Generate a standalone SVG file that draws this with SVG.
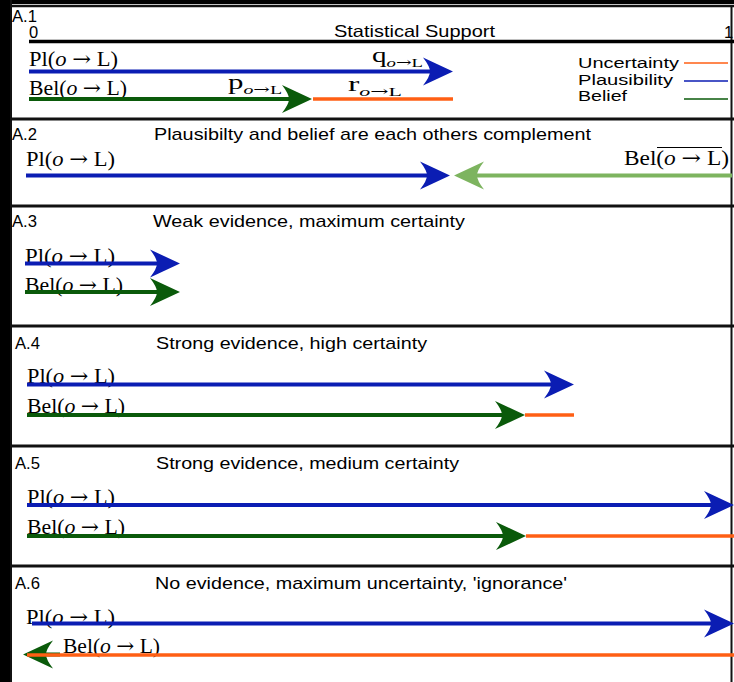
<svg xmlns="http://www.w3.org/2000/svg" width="734" height="682" viewBox="0 0 734 682">
<style>
.s{font-family:"Liberation Sans",Arial,sans-serif;font-size:16.5px;fill:#000}
.t{font-family:"Liberation Sans",Arial,sans-serif;font-size:17px;fill:#000}
.lgd{font-family:"Liberation Sans",Arial,sans-serif;font-size:15.5px;fill:#000}
.m{font-family:"Liberation Serif","DejaVu Serif",serif;font-size:21px;fill:#000}
.ar{font-family:"DejaVu Serif","DejaVu Sans",serif}
.sub{font-size:13.5px}
.i{font-style:italic}
.frame{stroke:#111;fill:none}
.bl{stroke:#0b1db3;stroke-width:4;fill:none}
.gr{stroke:#0a5a0a;stroke-width:4;fill:none}
.lg{stroke:#7db45f;stroke-width:4;fill:none}
.or{stroke:#ff5f14;stroke-width:3.5;fill:none}
.leg{stroke-width:1.6;fill:none}
</style>
<defs>
<marker id="mb" markerUnits="userSpaceOnUse" refX="0" refY="0" markerWidth="40" markerHeight="40" orient="auto" overflow="visible"><path d="M22,0 L-8,-14 Q-1,-5 -1,0 Q-1,5 -8,14 Z" fill="#0b1db3"/></marker>
<marker id="mg" markerUnits="userSpaceOnUse" refX="0" refY="0" markerWidth="40" markerHeight="40" orient="auto" overflow="visible"><path d="M22,0 L-8,-14 Q-1,-5 -1,0 Q-1,5 -8,14 Z" fill="#0a5a0a"/></marker>
<marker id="ml" markerUnits="userSpaceOnUse" refX="0" refY="0" markerWidth="40" markerHeight="40" orient="auto" overflow="visible"><path d="M22,0 L-8,-14 Q-1,-5 -1,0 Q-1,5 -8,14 Z" fill="#7db45f"/></marker>
</defs>
<rect x="0" y="0" width="734" height="682" fill="#fff"/>
<rect x="0" y="0" width="10" height="682" fill="#000"/>
<rect x="0" y="0" width="734" height="4" fill="#000"/>
<g id="frames" class="frame">
<line x1="10" y1="6" x2="734" y2="6" stroke-width="2.5"/>
<line x1="11" y1="0" x2="11" y2="682" stroke-width="2"/>
<line x1="731.5" y1="6" x2="731.5" y2="682" stroke-width="2"/>
<line x1="10" y1="119" x2="734" y2="119" stroke-width="3"/>
<line x1="10" y1="206" x2="734" y2="206" stroke-width="3"/>
<line x1="10" y1="326" x2="734" y2="326" stroke-width="3"/>
<line x1="10" y1="446" x2="734" y2="446" stroke-width="3"/>
<line x1="10" y1="566" x2="734" y2="566" stroke-width="3"/>
</g>

<g id="panelA1">
<text class="s" x="12" y="22" textLength="25" lengthAdjust="spacingAndGlyphs">A.1</text>
<text class="s" x="29" y="38">0</text>
<text class="s" x="724" y="38">1</text>
<text class="s" x="334" y="37" font-size="19" textLength="161" lengthAdjust="spacingAndGlyphs">Statistical Support</text>
<line x1="29" y1="41.5" x2="734" y2="41.5" stroke="#000" stroke-width="3.5"/>
<text class="m" x="29" y="66" textLength="89" lengthAdjust="spacingAndGlyphs">Pl(<tspan class="i">o</tspan> <tspan class="ar">→</tspan> L)</text>
<text class="m" x="29" y="95" textLength="98" lengthAdjust="spacingAndGlyphs">Bel(<tspan class="i">o</tspan> <tspan class="ar">→</tspan> L)</text>
<text class="m" x="372" y="62" fill="#1d2fd0" textLength="51" lengthAdjust="spacingAndGlyphs">q<tspan class="sub" dy="5"><tspan class="i">o</tspan><tspan class="ar">→</tspan>L</tspan></text>
<text class="m" x="228" y="89" fill="#0a6a0a" textLength="54" lengthAdjust="spacingAndGlyphs">p<tspan class="sub" dy="5"><tspan class="i">o</tspan><tspan class="ar">→</tspan>L</tspan></text>
<text class="m" x="348" y="91" fill="#ff5f14" textLength="54" lengthAdjust="spacingAndGlyphs">r<tspan class="sub" dy="5"><tspan class="i">o</tspan><tspan class="ar">→</tspan>L</tspan></text>
</g>
<g id="legend">
<text class="lgd" x="578" y="68" textLength="101" lengthAdjust="spacingAndGlyphs">Uncertainty</text>
<text class="lgd" x="578" y="84.5" textLength="95" lengthAdjust="spacingAndGlyphs">Plausibility</text>
<text class="lgd" x="578" y="100.5" textLength="49" lengthAdjust="spacingAndGlyphs">Belief</text>
<line class="leg" x1="684" y1="63" x2="728" y2="63" stroke="#ff5f14"/>
<line class="leg" x1="684" y1="81" x2="728" y2="81" stroke="#0b1db3"/>
<line class="leg" x1="684" y1="99" x2="728" y2="99" stroke="#0a5a0a"/>
</g>

<g id="panelA2">
<text class="s" x="12" y="140" textLength="25" lengthAdjust="spacingAndGlyphs">A.2</text>
<text class="t" x="154" y="140" textLength="437" lengthAdjust="spacingAndGlyphs">Plausibilty and belief are each others complement</text>
<text class="m" x="26" y="166" textLength="89" lengthAdjust="spacingAndGlyphs">Pl(<tspan class="i">o</tspan> <tspan class="ar">→</tspan> L)</text>
<text class="m" x="624" y="165" textLength="105" lengthAdjust="spacingAndGlyphs">Bel(<tspan class="i">o</tspan> <tspan class="ar">→</tspan> L)</text>
<line x1="657" y1="147.5" x2="722" y2="147.5" stroke="#000" stroke-width="1"/>
</g>

<g id="panelA3">
<text class="s" x="12" y="227" textLength="25" lengthAdjust="spacingAndGlyphs">A.3</text>
<text class="t" x="153" y="227" textLength="312" lengthAdjust="spacingAndGlyphs">Weak evidence, maximum certainty</text>
<text class="m" x="25" y="263" textLength="90" lengthAdjust="spacingAndGlyphs">Pl(<tspan class="i">o</tspan> <tspan class="ar">→</tspan> L)</text>
<text class="m" x="25" y="292" textLength="98" lengthAdjust="spacingAndGlyphs">Bel(<tspan class="i">o</tspan> <tspan class="ar">→</tspan> L)</text>
</g>

<g id="panelA4">
<text class="s" x="15" y="349" textLength="25" lengthAdjust="spacingAndGlyphs">A.4</text>
<text class="t" x="156" y="349" textLength="271" lengthAdjust="spacingAndGlyphs">Strong evidence, high certainty</text>
<text class="m" x="27" y="383" textLength="88" lengthAdjust="spacingAndGlyphs">Pl(<tspan class="i">o</tspan> <tspan class="ar">→</tspan> L)</text>
<text class="m" x="27" y="413" textLength="98" lengthAdjust="spacingAndGlyphs">Bel(<tspan class="i">o</tspan> <tspan class="ar">→</tspan> L)</text>
</g>

<g id="panelA5">
<text class="s" x="15" y="469" textLength="25" lengthAdjust="spacingAndGlyphs">A.5</text>
<text class="t" x="156" y="469" textLength="303" lengthAdjust="spacingAndGlyphs">Strong evidence, medium certainty</text>
<text class="m" x="27" y="504" textLength="88" lengthAdjust="spacingAndGlyphs">Pl(<tspan class="i">o</tspan> <tspan class="ar">→</tspan> L)</text>
<text class="m" x="27" y="534" textLength="98" lengthAdjust="spacingAndGlyphs">Bel(<tspan class="i">o</tspan> <tspan class="ar">→</tspan> L)</text>
</g>

<g id="panelA6">
<text class="s" x="15" y="589" textLength="25" lengthAdjust="spacingAndGlyphs">A.6</text>
<text class="t" x="155" y="589" textLength="412" lengthAdjust="spacingAndGlyphs">No evidence, maximum uncertainty, 'ignorance'</text>
<text class="m" x="26" y="624" textLength="89" lengthAdjust="spacingAndGlyphs">Pl(<tspan class="i">o</tspan> <tspan class="ar">→</tspan> L)</text>
<text class="m" x="63" y="653" textLength="97" lengthAdjust="spacingAndGlyphs">Bel(<tspan class="i">o</tspan> <tspan class="ar">→</tspan> L)</text>
</g>

<g id="connectors">
<line class="bl" x1="29" y1="71.5" x2="431" y2="71.5" marker-end="url(#mb)"/>
<line class="gr" x1="29" y1="99" x2="290" y2="99" marker-end="url(#mg)"/>
<line class="or" x1="313" y1="99" x2="453" y2="99"/>

<line class="bl" x1="26" y1="175.5" x2="428" y2="175.5" marker-end="url(#mb)"/>
<line class="lg" x1="732" y1="175.5" x2="476" y2="175.5" marker-end="url(#ml)"/>

<line class="bl" x1="25" y1="263.5" x2="158" y2="263.5" marker-end="url(#mb)"/>
<line class="gr" x1="25" y1="292" x2="158" y2="292" marker-end="url(#mg)"/>

<line class="bl" x1="27" y1="384.5" x2="552" y2="384.5" marker-end="url(#mb)"/>
<line class="gr" x1="27" y1="415" x2="503" y2="415" marker-end="url(#mg)"/>
<line class="or" x1="525" y1="415" x2="574" y2="415" stroke-width="3"/>

<line class="bl" x1="27" y1="505" x2="712" y2="505" marker-end="url(#mb)"/>
<line class="gr" x1="27" y1="536" x2="504" y2="536" marker-end="url(#mg)"/>
<line class="or" x1="526" y1="536" x2="734" y2="536"/>

<line class="bl" x1="32" y1="623.5" x2="712" y2="623.5" marker-end="url(#mb)"/>
<line class="gr" x1="60" y1="654.5" x2="45" y2="654.5" marker-end="url(#mg)"/>
<line class="or" x1="27" y1="655" x2="734" y2="655"/>
</g>
</svg>
